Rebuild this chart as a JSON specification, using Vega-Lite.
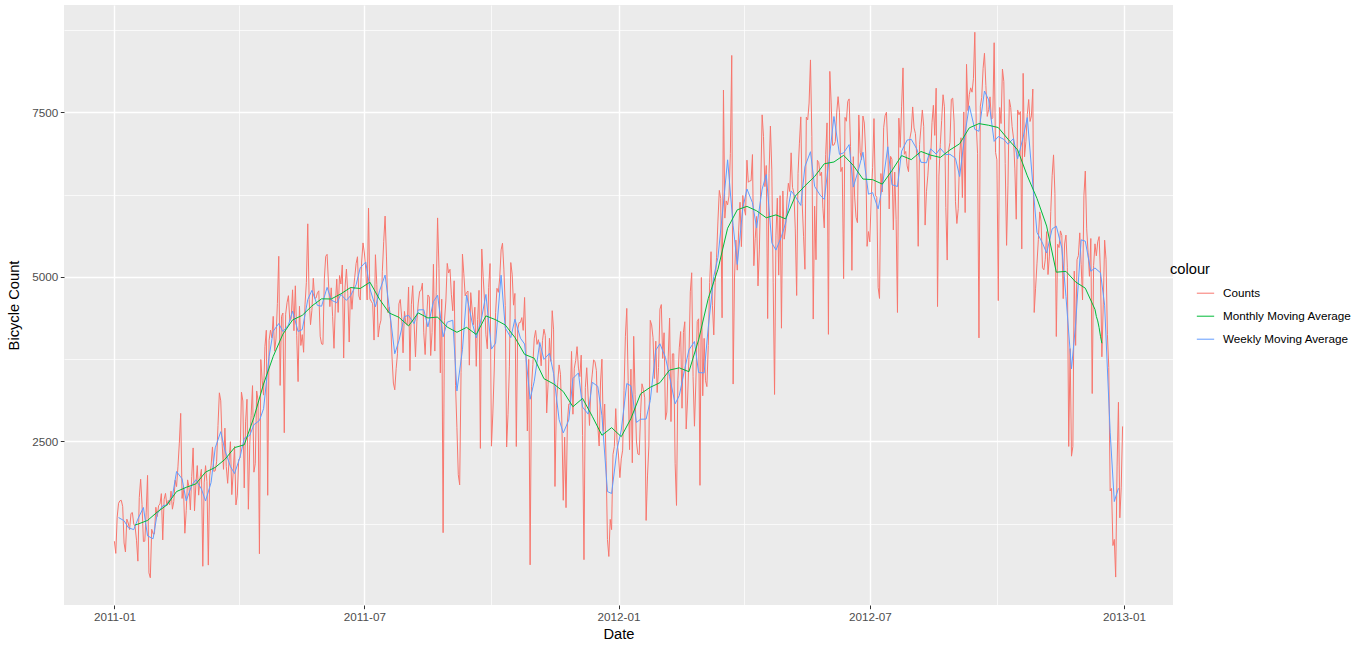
{
"$schema": "https://vega.github.io/schema/vega-lite/v6.json",
"width": 1109,
"height": 600,
"autosize": {"type": "none"},
"padding": {"left": 64, "top": 5, "right": 193, "bottom": 45},
"background": "white",
"config": {
  "view": {"fill": "#EBEBEB", "stroke": null},
  "font": "Liberation Sans"
},
"datasets": {
"cnt": [
{"d":"2011-01-01","v":985},{"d":"2011-01-02","v":801},{"d":"2011-01-03","v":1349},{"d":"2011-01-04","v":1562},{"d":"2011-01-05","v":1600},{"d":"2011-01-06","v":1606},{"d":"2011-01-07","v":1510},{"d":"2011-01-08","v":959},{"d":"2011-01-09","v":822},{"d":"2011-01-10","v":1321},{"d":"2011-01-11","v":1263},{"d":"2011-01-12","v":1162},{"d":"2011-01-13","v":1406},{"d":"2011-01-14","v":1421},{"d":"2011-01-15","v":1248},{"d":"2011-01-16","v":1204},{"d":"2011-01-17","v":1000},{"d":"2011-01-18","v":683},{"d":"2011-01-19","v":1650},{"d":"2011-01-20","v":1927},{"d":"2011-01-21","v":1543},{"d":"2011-01-22","v":981},{"d":"2011-01-23","v":986},{"d":"2011-01-24","v":1416},{"d":"2011-01-25","v":1985},{"d":"2011-01-26","v":506},{"d":"2011-01-27","v":431},{"d":"2011-01-28","v":1167},{"d":"2011-01-29","v":1098},{"d":"2011-01-30","v":1096},{"d":"2011-01-31","v":1501},
{"d":"2011-02-01","v":1360},{"d":"2011-02-02","v":1526},{"d":"2011-02-03","v":1550},{"d":"2011-02-04","v":1708},{"d":"2011-02-05","v":1005},{"d":"2011-02-06","v":1623},{"d":"2011-02-07","v":1712},{"d":"2011-02-08","v":1530},{"d":"2011-02-09","v":1605},{"d":"2011-02-10","v":1538},{"d":"2011-02-11","v":1746},{"d":"2011-02-12","v":1472},{"d":"2011-02-13","v":1589},{"d":"2011-02-14","v":1913},{"d":"2011-02-15","v":1815},{"d":"2011-02-16","v":2115},{"d":"2011-02-17","v":2475},{"d":"2011-02-18","v":2927},{"d":"2011-02-19","v":1635},{"d":"2011-02-20","v":1812},{"d":"2011-02-21","v":1107},{"d":"2011-02-22","v":1450},{"d":"2011-02-23","v":1917},{"d":"2011-02-24","v":1807},{"d":"2011-02-25","v":1461},{"d":"2011-02-26","v":1969},{"d":"2011-02-27","v":2402},{"d":"2011-02-28","v":1446},
{"d":"2011-03-01","v":1851},{"d":"2011-03-02","v":2134},{"d":"2011-03-03","v":1685},{"d":"2011-03-04","v":1944},{"d":"2011-03-05","v":2077},{"d":"2011-03-06","v":605},{"d":"2011-03-07","v":1872},{"d":"2011-03-08","v":2133},{"d":"2011-03-09","v":1891},{"d":"2011-03-10","v":623},{"d":"2011-03-11","v":1977},{"d":"2011-03-12","v":2132},{"d":"2011-03-13","v":2417},{"d":"2011-03-14","v":2046},{"d":"2011-03-15","v":2056},{"d":"2011-03-16","v":2192},{"d":"2011-03-17","v":2744},{"d":"2011-03-18","v":3239},{"d":"2011-03-19","v":3117},{"d":"2011-03-20","v":2471},{"d":"2011-03-21","v":2077},{"d":"2011-03-22","v":2703},{"d":"2011-03-23","v":2121},{"d":"2011-03-24","v":1865},{"d":"2011-03-25","v":2210},{"d":"2011-03-26","v":2496},{"d":"2011-03-27","v":1693},{"d":"2011-03-28","v":2028},{"d":"2011-03-29","v":2425},{"d":"2011-03-30","v":1536},{"d":"2011-03-31","v":1685},
{"d":"2011-04-01","v":2227},{"d":"2011-04-02","v":2252},{"d":"2011-04-03","v":3249},{"d":"2011-04-04","v":3115},{"d":"2011-04-05","v":1795},{"d":"2011-04-06","v":2808},{"d":"2011-04-07","v":3141},{"d":"2011-04-08","v":1471},{"d":"2011-04-09","v":2455},{"d":"2011-04-10","v":2895},{"d":"2011-04-11","v":3348},{"d":"2011-04-12","v":2034},{"d":"2011-04-13","v":2162},{"d":"2011-04-14","v":3267},{"d":"2011-04-15","v":3126},{"d":"2011-04-16","v":795},{"d":"2011-04-17","v":3744},{"d":"2011-04-18","v":3429},{"d":"2011-04-19","v":3204},{"d":"2011-04-20","v":3944},{"d":"2011-04-21","v":4189},{"d":"2011-04-22","v":1683},{"d":"2011-04-23","v":4036},{"d":"2011-04-24","v":4191},{"d":"2011-04-25","v":4073},{"d":"2011-04-26","v":4400},{"d":"2011-04-27","v":3872},{"d":"2011-04-28","v":4058},{"d":"2011-04-29","v":4595},{"d":"2011-04-30","v":5312},
{"d":"2011-05-01","v":3351},{"d":"2011-05-02","v":4401},{"d":"2011-05-03","v":4451},{"d":"2011-05-04","v":2633},{"d":"2011-05-05","v":4433},{"d":"2011-05-06","v":4608},{"d":"2011-05-07","v":4714},{"d":"2011-05-08","v":4333},{"d":"2011-05-09","v":4362},{"d":"2011-05-10","v":4803},{"d":"2011-05-11","v":4182},{"d":"2011-05-12","v":4864},{"d":"2011-05-13","v":4105},{"d":"2011-05-14","v":3409},{"d":"2011-05-15","v":4553},{"d":"2011-05-16","v":3958},{"d":"2011-05-17","v":4123},{"d":"2011-05-18","v":3855},{"d":"2011-05-19","v":4575},{"d":"2011-05-20","v":4917},{"d":"2011-05-21","v":5805},{"d":"2011-05-22","v":4660},{"d":"2011-05-23","v":4274},{"d":"2011-05-24","v":4492},{"d":"2011-05-25","v":4978},{"d":"2011-05-26","v":4677},{"d":"2011-05-27","v":4679},{"d":"2011-05-28","v":4758},{"d":"2011-05-29","v":4788},{"d":"2011-05-30","v":4098},{"d":"2011-05-31","v":3982},
{"d":"2011-06-01","v":3974},{"d":"2011-06-02","v":4968},{"d":"2011-06-03","v":5312},{"d":"2011-06-04","v":5342},{"d":"2011-06-05","v":4906},{"d":"2011-06-06","v":4548},{"d":"2011-06-07","v":4833},{"d":"2011-06-08","v":4401},{"d":"2011-06-09","v":3915},{"d":"2011-06-10","v":4586},{"d":"2011-06-11","v":4966},{"d":"2011-06-12","v":4460},{"d":"2011-06-13","v":5020},{"d":"2011-06-14","v":4891},{"d":"2011-06-15","v":5180},{"d":"2011-06-16","v":3767},{"d":"2011-06-17","v":4844},{"d":"2011-06-18","v":5119},{"d":"2011-06-19","v":4744},{"d":"2011-06-20","v":4010},{"d":"2011-06-21","v":4835},{"d":"2011-06-22","v":4507},{"d":"2011-06-23","v":4790},{"d":"2011-06-24","v":4991},{"d":"2011-06-25","v":5202},{"d":"2011-06-26","v":5305},{"d":"2011-06-27","v":4708},{"d":"2011-06-28","v":4648},{"d":"2011-06-29","v":5225},{"d":"2011-06-30","v":5515},
{"d":"2011-07-01","v":5362},{"d":"2011-07-02","v":5119},{"d":"2011-07-03","v":4649},{"d":"2011-07-04","v":6043},{"d":"2011-07-05","v":4665},{"d":"2011-07-06","v":4629},{"d":"2011-07-07","v":4592},{"d":"2011-07-08","v":4040},{"d":"2011-07-09","v":5336},{"d":"2011-07-10","v":4881},{"d":"2011-07-11","v":4086},{"d":"2011-07-12","v":4258},{"d":"2011-07-13","v":4342},{"d":"2011-07-14","v":5084},{"d":"2011-07-15","v":5538},{"d":"2011-07-16","v":5923},{"d":"2011-07-17","v":5302},{"d":"2011-07-18","v":4458},{"d":"2011-07-19","v":4541},{"d":"2011-07-20","v":4332},{"d":"2011-07-21","v":3784},{"d":"2011-07-22","v":3387},{"d":"2011-07-23","v":3285},{"d":"2011-07-24","v":3606},{"d":"2011-07-25","v":3840},{"d":"2011-07-26","v":4590},{"d":"2011-07-27","v":4656},{"d":"2011-07-28","v":4390},{"d":"2011-07-29","v":3846},{"d":"2011-07-30","v":4475},{"d":"2011-07-31","v":4302},
{"d":"2011-08-01","v":4266},{"d":"2011-08-02","v":4845},{"d":"2011-08-03","v":3574},{"d":"2011-08-04","v":4576},{"d":"2011-08-05","v":4866},{"d":"2011-08-06","v":4294},{"d":"2011-08-07","v":3785},{"d":"2011-08-08","v":4326},{"d":"2011-08-09","v":4602},{"d":"2011-08-10","v":4780},{"d":"2011-08-11","v":4792},{"d":"2011-08-12","v":4905},{"d":"2011-08-13","v":4150},{"d":"2011-08-14","v":3820},{"d":"2011-08-15","v":4338},{"d":"2011-08-16","v":4725},{"d":"2011-08-17","v":4694},{"d":"2011-08-18","v":3805},{"d":"2011-08-19","v":4153},{"d":"2011-08-20","v":5191},{"d":"2011-08-21","v":3873},{"d":"2011-08-22","v":4758},{"d":"2011-08-23","v":5895},{"d":"2011-08-24","v":5130},{"d":"2011-08-25","v":3542},{"d":"2011-08-26","v":4661},{"d":"2011-08-27","v":1115},{"d":"2011-08-28","v":4334},{"d":"2011-08-29","v":4634},{"d":"2011-08-30","v":5204},{"d":"2011-08-31","v":5058},
{"d":"2011-09-01","v":5115},{"d":"2011-09-02","v":4727},{"d":"2011-09-03","v":4484},{"d":"2011-09-04","v":4940},{"d":"2011-09-05","v":3351},{"d":"2011-09-06","v":2710},{"d":"2011-09-07","v":1996},{"d":"2011-09-08","v":1842},{"d":"2011-09-09","v":3544},{"d":"2011-09-10","v":5345},{"d":"2011-09-11","v":5046},{"d":"2011-09-12","v":4713},{"d":"2011-09-13","v":4763},{"d":"2011-09-14","v":4785},{"d":"2011-09-15","v":3659},{"d":"2011-09-16","v":4760},{"d":"2011-09-17","v":4511},{"d":"2011-09-18","v":4274},{"d":"2011-09-19","v":4539},{"d":"2011-09-20","v":3641},{"d":"2011-09-21","v":4352},{"d":"2011-09-22","v":4795},{"d":"2011-09-23","v":2395},{"d":"2011-09-24","v":5423},{"d":"2011-09-25","v":5010},{"d":"2011-09-26","v":4630},{"d":"2011-09-27","v":4120},{"d":"2011-09-28","v":3907},{"d":"2011-09-29","v":4839},{"d":"2011-09-30","v":5202},
{"d":"2011-10-01","v":2429},{"d":"2011-10-02","v":2918},{"d":"2011-10-03","v":3570},{"d":"2011-10-04","v":4456},{"d":"2011-10-05","v":4826},{"d":"2011-10-06","v":4765},{"d":"2011-10-07","v":4985},{"d":"2011-10-08","v":5409},{"d":"2011-10-09","v":5511},{"d":"2011-10-10","v":5117},{"d":"2011-10-11","v":4563},{"d":"2011-10-12","v":2416},{"d":"2011-10-13","v":2913},{"d":"2011-10-14","v":3644},{"d":"2011-10-15","v":5217},{"d":"2011-10-16","v":5041},{"d":"2011-10-17","v":4570},{"d":"2011-10-18","v":4748},{"d":"2011-10-19","v":2424},{"d":"2011-10-20","v":4195},{"d":"2011-10-21","v":4304},{"d":"2011-10-22","v":4308},{"d":"2011-10-23","v":4381},{"d":"2011-10-24","v":4187},{"d":"2011-10-25","v":4687},{"d":"2011-10-26","v":3894},{"d":"2011-10-27","v":2659},{"d":"2011-10-28","v":3747},{"d":"2011-10-29","v":627},{"d":"2011-10-30","v":3331},{"d":"2011-10-31","v":3669},
{"d":"2011-11-01","v":4068},{"d":"2011-11-02","v":4186},{"d":"2011-11-03","v":3974},{"d":"2011-11-04","v":4046},{"d":"2011-11-05","v":3926},{"d":"2011-11-06","v":3649},{"d":"2011-11-07","v":4035},{"d":"2011-11-08","v":4205},{"d":"2011-11-09","v":4109},{"d":"2011-11-10","v":2933},{"d":"2011-11-11","v":3368},{"d":"2011-11-12","v":4067},{"d":"2011-11-13","v":3717},{"d":"2011-11-14","v":4486},{"d":"2011-11-15","v":4195},{"d":"2011-11-16","v":1817},{"d":"2011-11-17","v":3053},{"d":"2011-11-18","v":3392},{"d":"2011-11-19","v":3663},{"d":"2011-11-20","v":3520},{"d":"2011-11-21","v":2765},{"d":"2011-11-22","v":1607},{"d":"2011-11-23","v":2566},{"d":"2011-11-24","v":1495},{"d":"2011-11-25","v":2792},{"d":"2011-11-26","v":3068},{"d":"2011-11-27","v":3071},{"d":"2011-11-28","v":3867},{"d":"2011-11-29","v":2914},{"d":"2011-11-30","v":3613},
{"d":"2011-12-01","v":3727},{"d":"2011-12-02","v":3940},{"d":"2011-12-03","v":3614},{"d":"2011-12-04","v":3485},{"d":"2011-12-05","v":3811},{"d":"2011-12-06","v":2594},{"d":"2011-12-07","v":705},{"d":"2011-12-08","v":3322},{"d":"2011-12-09","v":3620},{"d":"2011-12-10","v":3190},{"d":"2011-12-11","v":2743},{"d":"2011-12-12","v":3310},{"d":"2011-12-13","v":3523},{"d":"2011-12-14","v":3740},{"d":"2011-12-15","v":3709},{"d":"2011-12-16","v":3577},{"d":"2011-12-17","v":2739},{"d":"2011-12-18","v":2431},{"d":"2011-12-19","v":3403},{"d":"2011-12-20","v":3750},{"d":"2011-12-21","v":2660},{"d":"2011-12-22","v":3068},{"d":"2011-12-23","v":2209},{"d":"2011-12-24","v":1011},{"d":"2011-12-25","v":754},{"d":"2011-12-26","v":1317},{"d":"2011-12-27","v":1162},{"d":"2011-12-28","v":2302},{"d":"2011-12-29","v":2423},{"d":"2011-12-30","v":2999},{"d":"2011-12-31","v":2485},
{"d":"2012-01-01","v":2294},{"d":"2012-01-02","v":1951},{"d":"2012-01-03","v":2236},{"d":"2012-01-04","v":2368},{"d":"2012-01-05","v":3272},{"d":"2012-01-06","v":4098},{"d":"2012-01-07","v":4521},{"d":"2012-01-08","v":3425},{"d":"2012-01-09","v":2376},{"d":"2012-01-10","v":3598},{"d":"2012-01-11","v":2177},{"d":"2012-01-12","v":4097},{"d":"2012-01-13","v":3214},{"d":"2012-01-14","v":2493},{"d":"2012-01-15","v":2311},{"d":"2012-01-16","v":2298},{"d":"2012-01-17","v":2935},{"d":"2012-01-18","v":3376},{"d":"2012-01-19","v":3292},{"d":"2012-01-20","v":3163},{"d":"2012-01-21","v":1301},{"d":"2012-01-22","v":1977},{"d":"2012-01-23","v":2432},{"d":"2012-01-24","v":4339},{"d":"2012-01-25","v":4270},{"d":"2012-01-26","v":4075},{"d":"2012-01-27","v":3456},{"d":"2012-01-28","v":4023},{"d":"2012-01-29","v":3243},{"d":"2012-01-30","v":3624},{"d":"2012-01-31","v":4509},
{"d":"2012-02-01","v":4579},{"d":"2012-02-02","v":3761},{"d":"2012-02-03","v":4151},{"d":"2012-02-04","v":2832},{"d":"2012-02-05","v":2947},{"d":"2012-02-06","v":3784},{"d":"2012-02-07","v":4375},{"d":"2012-02-08","v":2802},{"d":"2012-02-09","v":3830},{"d":"2012-02-10","v":3831},{"d":"2012-02-11","v":2169},{"d":"2012-02-12","v":1529},{"d":"2012-02-13","v":3422},{"d":"2012-02-14","v":3922},{"d":"2012-02-15","v":4169},{"d":"2012-02-16","v":3005},{"d":"2012-02-17","v":4154},{"d":"2012-02-18","v":4318},{"d":"2012-02-19","v":2689},{"d":"2012-02-20","v":3129},{"d":"2012-02-21","v":3777},{"d":"2012-02-22","v":4773},{"d":"2012-02-23","v":5062},{"d":"2012-02-24","v":3487},{"d":"2012-02-25","v":2732},{"d":"2012-02-26","v":3389},{"d":"2012-02-27","v":4322},{"d":"2012-02-28","v":4363},{"d":"2012-02-29","v":1834},
{"d":"2012-03-01","v":4990},{"d":"2012-03-02","v":3194},{"d":"2012-03-03","v":4066},{"d":"2012-03-04","v":3423},{"d":"2012-03-05","v":3333},{"d":"2012-03-06","v":3956},{"d":"2012-03-07","v":4916},{"d":"2012-03-08","v":5382},{"d":"2012-03-09","v":4569},{"d":"2012-03-10","v":4118},{"d":"2012-03-11","v":4911},{"d":"2012-03-12","v":5298},{"d":"2012-03-13","v":5847},{"d":"2012-03-14","v":6312},{"d":"2012-03-15","v":6192},{"d":"2012-03-16","v":4378},{"d":"2012-03-17","v":7836},{"d":"2012-03-18","v":5892},{"d":"2012-03-19","v":6153},{"d":"2012-03-20","v":6093},{"d":"2012-03-21","v":6230},{"d":"2012-03-22","v":6871},{"d":"2012-03-23","v":8362},{"d":"2012-03-24","v":3372},{"d":"2012-03-25","v":4996},{"d":"2012-03-26","v":5558},{"d":"2012-03-27","v":5102},{"d":"2012-03-28","v":5698},{"d":"2012-03-29","v":6133},{"d":"2012-03-30","v":5459},{"d":"2012-03-31","v":6235},
{"d":"2012-04-01","v":6041},{"d":"2012-04-02","v":5936},{"d":"2012-04-03","v":6772},{"d":"2012-04-04","v":6436},{"d":"2012-04-05","v":6457},{"d":"2012-04-06","v":6460},{"d":"2012-04-07","v":6857},{"d":"2012-04-08","v":5169},{"d":"2012-04-09","v":5585},{"d":"2012-04-10","v":5918},{"d":"2012-04-11","v":4862},{"d":"2012-04-12","v":5409},{"d":"2012-04-13","v":6398},{"d":"2012-04-14","v":7460},{"d":"2012-04-15","v":7132},{"d":"2012-04-16","v":6370},{"d":"2012-04-17","v":6691},{"d":"2012-04-18","v":4367},{"d":"2012-04-19","v":6565},{"d":"2012-04-20","v":7290},{"d":"2012-04-21","v":6624},{"d":"2012-04-22","v":4919},{"d":"2012-04-23","v":3214},{"d":"2012-04-24","v":5633},{"d":"2012-04-25","v":6196},{"d":"2012-04-26","v":5026},{"d":"2012-04-27","v":6233},{"d":"2012-04-28","v":4220},{"d":"2012-04-29","v":6304},{"d":"2012-04-30","v":5572},
{"d":"2012-05-01","v":5740},{"d":"2012-05-02","v":6169},{"d":"2012-05-03","v":6421},{"d":"2012-05-04","v":6296},{"d":"2012-05-05","v":6883},{"d":"2012-05-06","v":6359},{"d":"2012-05-07","v":6273},{"d":"2012-05-08","v":5728},{"d":"2012-05-09","v":4717},{"d":"2012-05-10","v":6572},{"d":"2012-05-11","v":7030},{"d":"2012-05-12","v":7429},{"d":"2012-05-13","v":6118},{"d":"2012-05-14","v":5616},{"d":"2012-05-15","v":5115},{"d":"2012-05-16","v":7424},{"d":"2012-05-17","v":7384},{"d":"2012-05-18","v":7639},{"d":"2012-05-19","v":8294},{"d":"2012-05-20","v":7129},{"d":"2012-05-21","v":4359},{"d":"2012-05-22","v":6073},{"d":"2012-05-23","v":5260},{"d":"2012-05-24","v":6770},{"d":"2012-05-25","v":6734},{"d":"2012-05-26","v":6536},{"d":"2012-05-27","v":6591},{"d":"2012-05-28","v":6043},{"d":"2012-05-29","v":5743},{"d":"2012-05-30","v":6855},{"d":"2012-05-31","v":7338},
{"d":"2012-06-01","v":4127},{"d":"2012-06-02","v":8120},{"d":"2012-06-03","v":7641},{"d":"2012-06-04","v":6998},{"d":"2012-06-05","v":7001},{"d":"2012-06-06","v":7055},{"d":"2012-06-07","v":7494},{"d":"2012-06-08","v":7736},{"d":"2012-06-09","v":7498},{"d":"2012-06-10","v":6598},{"d":"2012-06-11","v":6664},{"d":"2012-06-12","v":4972},{"d":"2012-06-13","v":7421},{"d":"2012-06-14","v":7363},{"d":"2012-06-15","v":7665},{"d":"2012-06-16","v":7702},{"d":"2012-06-17","v":6978},{"d":"2012-06-18","v":5099},{"d":"2012-06-19","v":6825},{"d":"2012-06-20","v":6211},{"d":"2012-06-21","v":5905},{"d":"2012-06-22","v":5823},{"d":"2012-06-23","v":7458},{"d":"2012-06-24","v":6891},{"d":"2012-06-25","v":6779},{"d":"2012-06-26","v":7442},{"d":"2012-06-27","v":7335},{"d":"2012-06-28","v":6879},{"d":"2012-06-29","v":5463},{"d":"2012-06-30","v":5687},
{"d":"2012-07-01","v":5531},{"d":"2012-07-02","v":6227},{"d":"2012-07-03","v":6660},{"d":"2012-07-04","v":7403},{"d":"2012-07-05","v":6241},{"d":"2012-07-06","v":6207},{"d":"2012-07-07","v":4840},{"d":"2012-07-08","v":4672},{"d":"2012-07-09","v":6569},{"d":"2012-07-10","v":6290},{"d":"2012-07-11","v":7264},{"d":"2012-07-12","v":7446},{"d":"2012-07-13","v":7499},{"d":"2012-07-14","v":6969},{"d":"2012-07-15","v":6031},{"d":"2012-07-16","v":6830},{"d":"2012-07-17","v":6786},{"d":"2012-07-18","v":5713},{"d":"2012-07-19","v":6591},{"d":"2012-07-20","v":5870},{"d":"2012-07-21","v":4459},{"d":"2012-07-22","v":7410},{"d":"2012-07-23","v":6966},{"d":"2012-07-24","v":7592},{"d":"2012-07-25","v":8173},{"d":"2012-07-26","v":6861},{"d":"2012-07-27","v":6904},{"d":"2012-07-28","v":6685},{"d":"2012-07-29","v":6597},{"d":"2012-07-30","v":7105},{"d":"2012-07-31","v":7216},
{"d":"2012-08-01","v":7580},{"d":"2012-08-02","v":7261},{"d":"2012-08-03","v":7175},{"d":"2012-08-04","v":6824},{"d":"2012-08-05","v":5464},{"d":"2012-08-06","v":7013},{"d":"2012-08-07","v":7273},{"d":"2012-08-08","v":7534},{"d":"2012-08-09","v":7286},{"d":"2012-08-10","v":5786},{"d":"2012-08-11","v":6299},{"d":"2012-08-12","v":6544},{"d":"2012-08-13","v":6883},{"d":"2012-08-14","v":6784},{"d":"2012-08-15","v":7347},{"d":"2012-08-16","v":7605},{"d":"2012-08-17","v":7148},{"d":"2012-08-18","v":7865},{"d":"2012-08-19","v":4549},{"d":"2012-08-20","v":6530},{"d":"2012-08-21","v":7006},{"d":"2012-08-22","v":7375},{"d":"2012-08-23","v":7765},{"d":"2012-08-24","v":7582},{"d":"2012-08-25","v":6053},{"d":"2012-08-26","v":5255},{"d":"2012-08-27","v":6917},{"d":"2012-08-28","v":7040},{"d":"2012-08-29","v":7697},{"d":"2012-08-30","v":7713},{"d":"2012-08-31","v":7350},
{"d":"2012-09-01","v":6140},{"d":"2012-09-02","v":5810},{"d":"2012-09-03","v":6034},{"d":"2012-09-04","v":6864},{"d":"2012-09-05","v":7112},{"d":"2012-09-06","v":6203},{"d":"2012-09-07","v":7504},{"d":"2012-09-08","v":5976},{"d":"2012-09-09","v":8227},{"d":"2012-09-10","v":7525},{"d":"2012-09-11","v":7767},{"d":"2012-09-12","v":7870},{"d":"2012-09-13","v":7804},{"d":"2012-09-14","v":8009},{"d":"2012-09-15","v":8714},{"d":"2012-09-16","v":7333},{"d":"2012-09-17","v":6869},{"d":"2012-09-18","v":4073},{"d":"2012-09-19","v":7591},{"d":"2012-09-20","v":7720},{"d":"2012-09-21","v":8167},{"d":"2012-09-22","v":8395},{"d":"2012-09-23","v":7907},{"d":"2012-09-24","v":7436},{"d":"2012-09-25","v":7538},{"d":"2012-09-26","v":7733},{"d":"2012-09-27","v":7393},{"d":"2012-09-28","v":7415},{"d":"2012-09-29","v":8555},{"d":"2012-09-30","v":6889},
{"d":"2012-10-01","v":6778},{"d":"2012-10-02","v":4639},{"d":"2012-10-03","v":7572},{"d":"2012-10-04","v":7328},{"d":"2012-10-05","v":8156},{"d":"2012-10-06","v":7965},{"d":"2012-10-07","v":6722},{"d":"2012-10-08","v":5478},{"d":"2012-10-09","v":6392},{"d":"2012-10-10","v":7691},{"d":"2012-10-11","v":7570},{"d":"2012-10-12","v":7282},{"d":"2012-10-13","v":7109},{"d":"2012-10-14","v":6639},{"d":"2012-10-15","v":5875},{"d":"2012-10-16","v":7534},{"d":"2012-10-17","v":7461},{"d":"2012-10-18","v":7509},{"d":"2012-10-19","v":5424},{"d":"2012-10-20","v":8090},{"d":"2012-10-21","v":6824},{"d":"2012-10-22","v":7058},{"d":"2012-10-23","v":7466},{"d":"2012-10-24","v":7693},{"d":"2012-10-25","v":7359},{"d":"2012-10-26","v":7444},{"d":"2012-10-27","v":7852},{"d":"2012-10-28","v":4459},{"d":"2012-10-29","v":4828},{"d":"2012-10-30","v":5197},{"d":"2012-10-31","v":5566},
{"d":"2012-11-01","v":5986},{"d":"2012-11-02","v":5847},{"d":"2012-11-03","v":5138},{"d":"2012-11-04","v":5107},{"d":"2012-11-05","v":5259},{"d":"2012-11-06","v":5686},{"d":"2012-11-07","v":5035},{"d":"2012-11-08","v":5315},{"d":"2012-11-09","v":5992},{"d":"2012-11-10","v":6536},{"d":"2012-11-11","v":6852},{"d":"2012-11-12","v":6269},{"d":"2012-11-13","v":4094},{"d":"2012-11-14","v":5495},{"d":"2012-11-15","v":5445},{"d":"2012-11-16","v":5698},{"d":"2012-11-17","v":5629},{"d":"2012-11-18","v":4669},{"d":"2012-11-19","v":5499},{"d":"2012-11-20","v":5634},{"d":"2012-11-21","v":5146},{"d":"2012-11-22","v":2425},{"d":"2012-11-23","v":3910},{"d":"2012-11-24","v":2277},{"d":"2012-11-25","v":2424},{"d":"2012-11-26","v":5087},{"d":"2012-11-27","v":3959},{"d":"2012-11-28","v":5260},{"d":"2012-11-29","v":5323},{"d":"2012-11-30","v":5668},
{"d":"2012-12-01","v":5191},{"d":"2012-12-02","v":4649},{"d":"2012-12-03","v":6234},{"d":"2012-12-04","v":6606},{"d":"2012-12-05","v":5729},{"d":"2012-12-06","v":5375},{"d":"2012-12-07","v":5008},{"d":"2012-12-08","v":5582},{"d":"2012-12-09","v":3228},{"d":"2012-12-10","v":5170},{"d":"2012-12-11","v":5501},{"d":"2012-12-12","v":5319},{"d":"2012-12-13","v":5532},{"d":"2012-12-14","v":5611},{"d":"2012-12-15","v":5047},{"d":"2012-12-16","v":3786},{"d":"2012-12-17","v":4585},{"d":"2012-12-18","v":5557},{"d":"2012-12-19","v":5267},{"d":"2012-12-20","v":4128},{"d":"2012-12-21","v":3623},{"d":"2012-12-22","v":1749},{"d":"2012-12-23","v":1787},{"d":"2012-12-24","v":920},{"d":"2012-12-25","v":1013},{"d":"2012-12-26","v":441},{"d":"2012-12-27","v":2114},{"d":"2012-12-28","v":3095},{"d":"2012-12-29","v":1341},{"d":"2012-12-30","v":1796},{"d":"2012-12-31","v":2729}
],
"wk": [
{"d":"2011-01-04","v":1345},{"d":"2011-01-08","v":1297},{"d":"2011-01-11","v":1193},{"d":"2011-01-15","v":1161},{"d":"2011-01-18","v":1322},{"d":"2011-01-22","v":1498},{"d":"2011-01-25","v":1067},{"d":"2011-01-29","v":1023},{"d":"2011-02-01","v":1406},{"d":"2011-02-05","v":1522},{"d":"2011-02-08","v":1537},{"d":"2011-02-12","v":1668},{"d":"2011-02-15","v":2044},{"d":"2011-02-19","v":1932},{"d":"2011-02-22","v":1598},{"d":"2011-02-26","v":1836},{"d":"2011-03-01","v":1919},{"d":"2011-03-05","v":1779},{"d":"2011-03-08","v":1597},{"d":"2011-03-12","v":1877},{"d":"2011-03-15","v":2404},{"d":"2011-03-19","v":2649},{"d":"2011-03-22","v":2366},{"d":"2011-03-26","v":2120},{"d":"2011-03-29","v":2013},{"d":"2011-04-02","v":2266},{"d":"2011-04-05","v":2547},{"d":"2011-04-09","v":2593},{"d":"2011-04-12","v":2755},{"d":"2011-04-16","v":2818},{"d":"2011-04-19","v":2998},{"d":"2011-04-23","v":3788},{"d":"2011-04-26","v":4175},{"d":"2011-04-30","v":4291},{"d":"2011-05-03","v":4170},{"d":"2011-05-07","v":4269},{"d":"2011-05-10","v":4480},{"d":"2011-05-14","v":4171},{"d":"2011-05-17","v":4199},{"d":"2011-05-21","v":4654},{"d":"2011-05-24","v":4795},{"d":"2011-05-28","v":4566},{"d":"2011-05-31","v":4554},{"d":"2011-06-04","v":4840},{"d":"2011-06-07","v":4647},{"d":"2011-06-11","v":4606},{"d":"2011-06-14","v":4733},{"d":"2011-06-18","v":4643},{"d":"2011-06-21","v":4714},{"d":"2011-06-25","v":4879},{"d":"2011-06-28","v":5138},{"d":"2011-07-02","v":5225},{"d":"2011-07-05","v":4820},{"d":"2011-07-09","v":4546},{"d":"2011-07-12","v":4789},{"d":"2011-07-16","v":5027},{"d":"2011-07-19","v":4532},{"d":"2011-07-23","v":3832},{"d":"2011-07-26","v":4030},{"d":"2011-07-30","v":4397},{"d":"2011-08-02","v":4415},{"d":"2011-08-06","v":4289},{"d":"2011-08-09","v":4498},{"d":"2011-08-13","v":4501},{"d":"2011-08-16","v":4241},{"d":"2011-08-20","v":4624},{"d":"2011-08-23","v":4721},{"d":"2011-08-27","v":4089},{"d":"2011-08-30","v":4312},{"d":"2011-09-03","v":4341},{"d":"2011-09-06","v":3267},{"d":"2011-09-10","v":3893},{"d":"2011-09-13","v":4724},{"d":"2011-09-17","v":4310},{"d":"2011-09-20","v":4072},{"d":"2011-09-24","v":4389},{"d":"2011-09-27","v":4733},{"d":"2011-10-01","v":3903},{"d":"2011-10-04","v":3993},{"d":"2011-10-08","v":5025},{"d":"2011-10-11","v":4225},{"d":"2011-10-15","v":4078},{"d":"2011-10-18","v":4357},{"d":"2011-10-22","v":4069},{"d":"2011-10-25","v":3980},{"d":"2011-10-29","v":3142},{"d":"2011-11-01","v":3414},{"d":"2011-11-05","v":4003},{"d":"2011-11-08","v":3746},{"d":"2011-11-12","v":3839},{"d":"2011-11-15","v":3532},{"d":"2011-11-19","v":2831},{"d":"2011-11-22","v":2630},{"d":"2011-11-26","v":2825},{"d":"2011-11-29","v":3457},{"d":"2011-12-03","v":3541},{"d":"2011-12-06","v":3022},{"d":"2011-12-10","v":2916},{"d":"2011-12-13","v":3399},{"d":"2011-12-17","v":3336},{"d":"2011-12-20","v":2894},{"d":"2011-12-24","v":1740},{"d":"2011-12-27","v":1710},{"d":"2011-12-31","v":2384},
{"d":"2012-01-03","v":2672},{"d":"2012-01-07","v":3380},{"d":"2012-01-10","v":3344},{"d":"2012-01-14","v":2789},{"d":"2012-01-17","v":2838},{"d":"2012-01-21","v":2840},{"d":"2012-01-24","v":3121},{"d":"2012-01-28","v":3886},{"d":"2012-01-31","v":3984},{"d":"2012-02-04","v":3776},{"d":"2012-02-07","v":3486},{"d":"2012-02-11","v":3072},{"d":"2012-02-14","v":3196},{"d":"2012-02-18","v":3606},{"d":"2012-02-21","v":3891},{"d":"2012-02-25","v":4018},{"d":"2012-02-28","v":3546},{"d":"2012-03-03","v":3542},{"d":"2012-03-06","v":4235},{"d":"2012-03-10","v":5006},{"d":"2012-03-13","v":5294},{"d":"2012-03-17","v":6122},{"d":"2012-03-20","v":6777},{"d":"2012-03-24","v":5784},{"d":"2012-03-27","v":5188},{"d":"2012-03-31","v":6039},{"d":"2012-04-03","v":6334},{"d":"2012-04-07","v":6126},{"d":"2012-04-10","v":5743},{"d":"2012-04-14","v":6332},{"d":"2012-04-17","v":6554},{"d":"2012-04-21","v":5516},{"d":"2012-04-24","v":5406},{"d":"2012-04-28","v":5613},{"d":"2012-05-01","v":5817},{"d":"2012-05-05","v":6304},{"d":"2012-05-08","v":6223},{"d":"2012-05-12","v":6085},{"d":"2012-05-15","v":6675},{"d":"2012-05-19","v":6900},{"d":"2012-05-22","v":6374},{"d":"2012-05-26","v":6240},{"d":"2012-05-29","v":6176},{"d":"2012-06-02","v":6869},{"d":"2012-06-05","v":7435},{"d":"2012-06-09","v":6860},{"d":"2012-06-12","v":6883},{"d":"2012-06-16","v":7008},{"d":"2012-06-19","v":6363},{"d":"2012-06-23","v":6644},{"d":"2012-06-26","v":6892},{"d":"2012-06-30","v":6255},{"d":"2012-07-03","v":6279},{"d":"2012-07-07","v":6032},{"d":"2012-07-10","v":6369},{"d":"2012-07-14","v":6975},{"d":"2012-07-17","v":6399},{"d":"2012-07-21","v":6372},{"d":"2012-07-24","v":6909},{"d":"2012-07-28","v":7077},{"d":"2012-07-31","v":7088},{"d":"2012-08-04","v":6941},{"d":"2012-08-07","v":6740},{"d":"2012-08-11","v":6731},{"d":"2012-08-14","v":6944},{"d":"2012-08-18","v":6864},{"d":"2012-08-21","v":6953},{"d":"2012-08-25","v":6855},{"d":"2012-08-28","v":6861},{"d":"2012-09-01","v":6801},{"d":"2012-09-04","v":6524},{"d":"2012-09-08","v":7188},{"d":"2012-09-11","v":7597},{"d":"2012-09-15","v":7239},{"d":"2012-09-18","v":7210},{"d":"2012-09-22","v":7822},{"d":"2012-09-25","v":7688},{"d":"2012-09-29","v":7057},{"d":"2012-10-02","v":7131},{"d":"2012-10-06","v":7088},{"d":"2012-10-09","v":7014},{"d":"2012-10-13","v":7100},{"d":"2012-10-16","v":6793},{"d":"2012-10-20","v":7119},{"d":"2012-10-23","v":7419},{"d":"2012-10-27","v":6405},{"d":"2012-10-30","v":5676},{"d":"2012-11-03","v":5513},{"d":"2012-11-06","v":5362},{"d":"2012-11-10","v":5728},{"d":"2012-11-13","v":5770},{"d":"2012-11-17","v":5438},{"d":"2012-11-20","v":4702},{"d":"2012-11-24","v":3604},{"d":"2012-11-27","v":4285},{"d":"2012-12-01","v":5562},{"d":"2012-12-04","v":5542},{"d":"2012-12-08","v":5085},{"d":"2012-12-11","v":5135},{"d":"2012-12-15","v":5062},{"d":"2012-12-18","v":4570},{"d":"2012-12-22","v":2641},{"d":"2012-12-25","v":1588},{"d":"2012-12-28","v":1790}
],
"mo": [
{"d":"2011-01-16","v":1232},{"d":"2011-01-18","v":1245},{"d":"2011-01-25","v":1301},{"d":"2011-02-01","v":1428},{"d":"2011-02-08","v":1536},{"d":"2011-02-15","v":1740},{"d":"2011-02-22","v":1804},{"d":"2011-03-01","v":1856},{"d":"2011-03-08","v":2035},{"d":"2011-03-15","v":2106},{"d":"2011-03-22","v":2228},{"d":"2011-03-29","v":2407},{"d":"2011-04-05","v":2449},{"d":"2011-04-12","v":2866},{"d":"2011-04-19","v":3373},{"d":"2011-04-26","v":3792},{"d":"2011-05-03","v":4130},{"d":"2011-05-10","v":4346},{"d":"2011-05-17","v":4415},{"d":"2011-05-24","v":4558},{"d":"2011-05-31","v":4666},{"d":"2011-06-07","v":4664},{"d":"2011-06-14","v":4742},{"d":"2011-06-21","v":4838},{"d":"2011-06-28","v":4823},{"d":"2011-07-05","v":4919},{"d":"2011-07-12","v":4658},{"d":"2011-07-19","v":4451},{"d":"2011-07-26","v":4386},{"d":"2011-08-02","v":4255},{"d":"2011-08-09","v":4453},{"d":"2011-08-16","v":4376},{"d":"2011-08-23","v":4389},{"d":"2011-08-30","v":4237},{"d":"2011-09-06","v":4158},{"d":"2011-09-13","v":4233},{"d":"2011-09-20","v":4124},{"d":"2011-09-27","v":4407},{"d":"2011-10-04","v":4349},{"d":"2011-10-11","v":4269},{"d":"2011-10-18","v":4079},{"d":"2011-10-25","v":3823},{"d":"2011-11-01","v":3764},{"d":"2011-11-08","v":3454},{"d":"2011-11-15","v":3375},{"d":"2011-11-22","v":3259},{"d":"2011-11-29","v":3028},{"d":"2011-12-06","v":3154},{"d":"2011-12-13","v":2883},{"d":"2011-12-20","v":2594},{"d":"2011-12-27","v":2710},
{"d":"2012-01-03","v":2573},{"d":"2012-01-10","v":2848},{"d":"2012-01-17","v":3224},{"d":"2012-01-24","v":3323},{"d":"2012-01-31","v":3393},{"d":"2012-02-07","v":3585},{"d":"2012-02-14","v":3618},{"d":"2012-02-21","v":3560},{"d":"2012-02-28","v":4043},{"d":"2012-03-06","v":4672},{"d":"2012-03-13","v":5114},{"d":"2012-03-20","v":5738},{"d":"2012-03-27","v":6018},{"d":"2012-04-03","v":6070},{"d":"2012-04-10","v":6003},{"d":"2012-04-17","v":5897},{"d":"2012-04-24","v":5941},{"d":"2012-05-01","v":5880},{"d":"2012-05-08","v":6226},{"d":"2012-05-15","v":6382},{"d":"2012-05-22","v":6523},{"d":"2012-05-29","v":6717},{"d":"2012-06-05","v":6744},{"d":"2012-06-12","v":6845},{"d":"2012-06-19","v":6692},{"d":"2012-06-26","v":6485},{"d":"2012-07-03","v":6476},{"d":"2012-07-10","v":6408},{"d":"2012-07-17","v":6614},{"d":"2012-07-24","v":6841},{"d":"2012-07-31","v":6780},{"d":"2012-08-07","v":6904},{"d":"2012-08-14","v":6848},{"d":"2012-08-21","v":6813},{"d":"2012-08-28","v":6927},{"d":"2012-09-04","v":7021},{"d":"2012-09-11","v":7262},{"d":"2012-09-18","v":7327},{"d":"2012-09-25","v":7302},{"d":"2012-10-02","v":7267},{"d":"2012-10-09","v":7091},{"d":"2012-10-16","v":6928},{"d":"2012-10-23","v":6534},{"d":"2012-10-30","v":6191},{"d":"2012-11-06","v":5771},{"d":"2012-11-13","v":5071},{"d":"2012-11-20","v":5083},{"d":"2012-11-27","v":4922},{"d":"2012-12-04","v":4828},{"d":"2012-12-11","v":4506},{"d":"2012-12-12","v":4398},{"d":"2012-12-13","v":4331},{"d":"2012-12-14","v":4228},{"d":"2012-12-15","v":4097},{"d":"2012-12-16","v":3992}
]
},
"layer": [
{
  "data": {"name": "cnt"},
  "mark": {"type": "line", "strokeWidth": 1, "clip": true},
  "encoding": {
    "x": {"field": "d", "type": "temporal",
      "scale": {"type": "utc", "domain": [{"year": 2010, "month": 11, "date": 25, "hours": 12, "utc": true}, {"year": 2013, "month": 2, "date": 5, "hours": 12, "utc": true}]},
      "axis": {"title": "Date", "labelExpr": "utcFormat(datum.value, '%Y-%m')",
        "values": [{"year": 2011, "month": 1, "date": 1, "utc": true}, {"year": 2011, "month": 7, "date": 1, "utc": true}, {"year": 2012, "month": 1, "date": 1, "utc": true}, {"year": 2012, "month": 7, "date": 1, "utc": true}, {"year": 2013, "month": 1, "date": 1, "utc": true}],
        "domain": false, "grid": true, "gridColor": "#FFFFFF", "gridWidth": 1.4,
        "ticks": true, "tickColor": "#333333", "tickSize": 3.7, "tickWidth": 1,
        "labelFont": "Liberation Sans", "labelFontSize": 11.7, "labelColor": "#4D4D4D", "labelPadding": 2.5, "labelFlush": false, "labelOverlap": false,
        "titleFont": "Liberation Sans", "titleFontSize": 14.7, "titleFontWeight": "normal", "titleColor": "#000000", "titlePadding": 4}},
    "y": {"field": "v", "type": "quantitative",
      "scale": {"domain": [17, 9128], "nice": false, "zero": false},
      "axis": {"title": "Bicycle Count", "values": [2500, 5000, 7500], "format": "d",
        "domain": false, "grid": true, "gridColor": "#FFFFFF", "gridWidth": 1.4,
        "ticks": true, "tickColor": "#333333", "tickSize": 3.7, "tickWidth": 1,
        "labelFont": "Liberation Sans", "labelFontSize": 11.7, "labelColor": "#4D4D4D", "labelPadding": 2.5,
        "titleFont": "Liberation Sans", "titleFontSize": 14.7, "titleFontWeight": "normal", "titleColor": "#000000", "titlePadding": 10}},
    "color": {"datum": "Counts", "type": "nominal",
      "scale": {"domain": ["Counts", "Monthly Moving Average", "Weekly Moving Average"], "range": ["#F8766D", "#00BA38", "#619CFF"]},
      "legend": {"title": "colour", "orient": "none", "legendX": 1106, "legendY": 257,
        "titleFont": "Liberation Sans", "titleFontSize": 14.7, "titleFontWeight": "normal", "titleColor": "#000000", "titlePadding": 7,
        "labelFont": "Liberation Sans", "labelFontSize": 11.7, "labelColor": "#000000", "labelOffset": 8,
        "symbolType": "stroke", "symbolSize": 300, "symbolStrokeWidth": 1, "symbolOffset": 26, "rowPadding": 6}}
  }
},
{
  "data": {"name": "wk"},
  "mark": {"type": "line", "strokeWidth": 1, "clip": true},
  "encoding": {
    "x": {"field": "d", "type": "temporal",
      "axis": {"orient": "top", "title": null, "labels": false, "ticks": false, "domain": false, "grid": true, "gridColor": "#FFFFFF", "gridWidth": 0.7,
        "values": [{"year": 2011, "month": 4, "date": 1, "hours": 12, "utc": true}, {"year": 2011, "month": 10, "date": 1, "utc": true}, {"year": 2012, "month": 4, "date": 1, "utc": true}, {"year": 2012, "month": 10, "date": 1, "utc": true}]}},
    "y": {"field": "v", "type": "quantitative",
      "axis": {"orient": "right", "title": null, "labels": false, "ticks": false, "domain": false, "grid": true, "gridColor": "#FFFFFF", "gridWidth": 0.7,
        "values": [1250, 3750, 6250, 8750]}},
    "color": {"datum": "Weekly Moving Average", "type": "nominal"}
  }
},
{
  "data": {"name": "mo"},
  "mark": {"type": "line", "strokeWidth": 1, "clip": true},
  "encoding": {
    "x": {"field": "d", "type": "temporal", "axis": null},
    "y": {"field": "v", "type": "quantitative", "axis": null},
    "color": {"datum": "Monthly Moving Average", "type": "nominal"}
  }
}
],
"resolve": {"axis": {"x": "independent", "y": "independent"}}
}
